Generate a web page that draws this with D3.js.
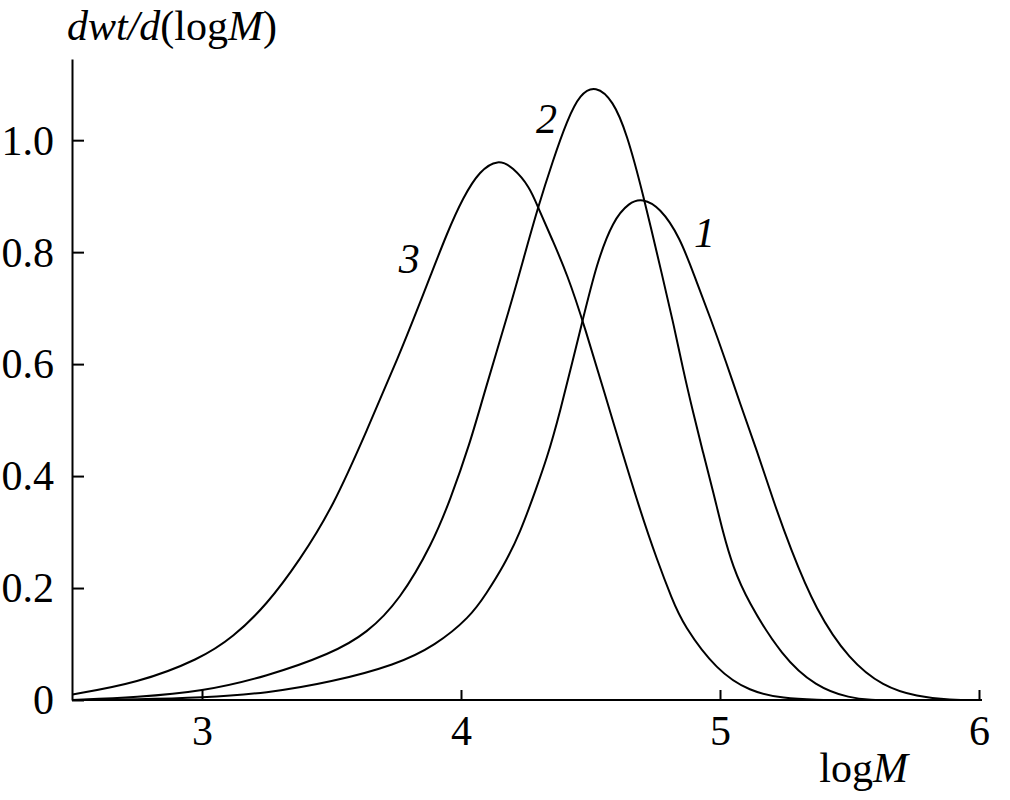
<!DOCTYPE html>
<html>
<head>
<meta charset="utf-8">
<script src="https://cdn.jsdelivr.net/npm/d3@7"></script>
<style>
  body { margin: 0; background: #fff; }
  svg text { font-family: "Liberation Serif", "Times New Roman", serif; fill: #000; }
</style>
</head>
<body>
<div id="chart"></div>
<script>
// curve 1
const logM1 = [2.5, 2.75, 3.0, 3.25, 3.5, 3.75, 3.9, 4.035, 4.099, 4.163, 4.228, 4.293, 4.33, 4.375, 4.47, 4.524, 4.587, 4.65, 4.70, 4.768, 4.845, 4.903, 4.961, 5.025, 5.077, 5.143, 5.205, 5.27, 5.37, 5.50, 5.63, 5.76, 5.89, 6.0]
const val1 = [0.0, 0.001, 0.004, 0.012, 0.032, 0.063, 0.097, 0.148, 0.191, 0.238, 0.298, 0.381, 0.43, 0.50, 0.679, 0.78, 0.857, 0.889, 0.896, 0.88, 0.827, 0.755, 0.685, 0.602, 0.53, 0.445, 0.357, 0.273, 0.16, 0.071, 0.024, 0.006, 0.0, 0.0]
// curve 2
const logM2 = [2.5, 2.75, 3.0, 3.25, 3.5, 3.637, 3.765, 3.89, 3.958, 4.035, 4.085, 4.197, 4.24, 4.297, 4.355, 4.41, 4.46, 4.52, 4.587, 4.64, 4.70, 4.781, 4.82, 4.858, 4.897, 4.935, 4.975, 5.012, 5.05, 5.104, 5.24, 5.37, 5.50, 5.6]
const val2 = [0.0, 0.005, 0.015, 0.042, 0.083, 0.119, 0.179, 0.28, 0.357, 0.459, 0.541, 0.714, 0.786, 0.88, 0.964, 1.036, 1.083, 1.098, 1.071, 1.012, 0.91, 0.75, 0.673, 0.589, 0.512, 0.441, 0.37, 0.298, 0.238, 0.179, 0.077, 0.024, 0.003, 0.0]
// curve 3
const logM3 = [2.5, 2.75, 2.992, 3.12, 3.25, 3.378, 3.506, 3.637, 3.765, 3.83, 3.88, 3.946, 4.008, 4.073, 4.143, 4.20, 4.266, 4.297, 4.355, 4.41, 4.47, 4.60, 4.691, 4.757, 4.815, 4.857, 4.988, 5.116, 5.24, 5.4]
const val3 = [0.01, 0.03, 0.073, 0.112, 0.17, 0.25, 0.345, 0.482, 0.62, 0.696, 0.755, 0.834, 0.898, 0.946, 0.966, 0.952, 0.916, 0.88, 0.82, 0.76, 0.679, 0.477, 0.339, 0.25, 0.18, 0.135, 0.052, 0.015, 0.003, 0.0]

const xTicks = [3, 4, 5, 6]
const yTicks = [0, 0.2, 0.4, 0.6, 0.8, 1.0]
const yTickLabels = ["0", "0.2", "0.4", "0.6", "0.8", "1.0"]
const curveNames = ["1", "2", "3"]

const width = 1010, height = 800
const fontSize = 42

var xScale = d3.scaleLinear().domain([2.5, 6]).range([72.5, 979])
var yScale = d3.scaleLinear().domain([0, 1.145]).range([700, 59])

const svg = d3.select("#chart")
    .append("svg")
    .attr("width", width)
    .attr("height", height)

// x axis, ticks point inward
var xAxis = svg.append("g")
    .attr("transform", "translate(0,700)")
    .call(d3.axisBottom(xScale)
        .tickValues(xTicks)
        .tickFormat(d3.format("d"))
        .tickSizeInner(-10)
        .tickSizeOuter(0)
        .tickPadding(15))
xAxis.select(".domain").attr("stroke", "#000").attr("stroke-width", 2)
    .attr("d", "M72,0H982")
xAxis.selectAll(".tick line").attr("stroke", "#000").attr("stroke-width", 2)
xAxis.selectAll("text").attr("font-size", fontSize).attr("font-family", "Liberation Serif")

// y axis
var yAxis = svg.append("g")
    .attr("transform", "translate(72,0)")
    .call(d3.axisLeft(yScale)
        .tickValues(yTicks)
        .tickFormat(function(d, i) { return yTickLabels[i] })
        .tickSizeInner(-12)
        .tickSizeOuter(0)
        .tickPadding(18))
yAxis.select(".domain").attr("stroke", "#000").attr("stroke-width", 2)
yAxis.selectAll(".tick line").attr("stroke", "#000").attr("stroke-width", 2)
yAxis.selectAll("text").attr("font-size", fontSize).attr("font-family", "Liberation Serif")
    .attr("dy", "0.33em")

// curves (basis smooths out the reading noise)
var line = d3.line()
    .x(function(d) { return xScale(d[0]) })
    .y(function(d) { return yScale(d[1]) })
    .curve(d3.curveBasis)

var series = [
    d3.zip(logM1, val1),
    d3.zip(logM2, val2),
    d3.zip(logM3, val3)
]

svg.append("g").selectAll("path").data(series).enter()
    .append("path")
    .attr("d", line)
    .attr("fill", "none")
    .attr("stroke", "#000")
    .attr("stroke-width", 2)

// curve numbers
var labelPos = [[4.94, 0.81], [4.33, 1.012], [3.8, 0.762]]
svg.append("g").selectAll("text").data(curveNames).enter()
    .append("text")
    .attr("x", function(d, i) { return xScale(labelPos[i][0]) })
    .attr("y", function(d, i) { return yScale(labelPos[i][1]) })
    .attr("text-anchor", "middle")
    .attr("font-size", fontSize)
    .attr("font-style", "italic")
    .text(function(d) { return d })

// axis titles
var yTitle = svg.append("text")
    .attr("x", 67)
    .attr("y", 40)
    .attr("font-size", fontSize)
yTitle.append("tspan").attr("font-style", "italic").text("dwt/d")
yTitle.append("tspan").text("(log")
yTitle.append("tspan").attr("font-style", "italic").text("M")
yTitle.append("tspan").text(")")

var xTitle = svg.append("text")
    .attr("x", 908)
    .attr("y", 782)
    .attr("text-anchor", "end")
    .attr("font-size", fontSize)
xTitle.append("tspan").text("log")
xTitle.append("tspan").attr("font-style", "italic").text("M")
</script>
</body>
</html>
